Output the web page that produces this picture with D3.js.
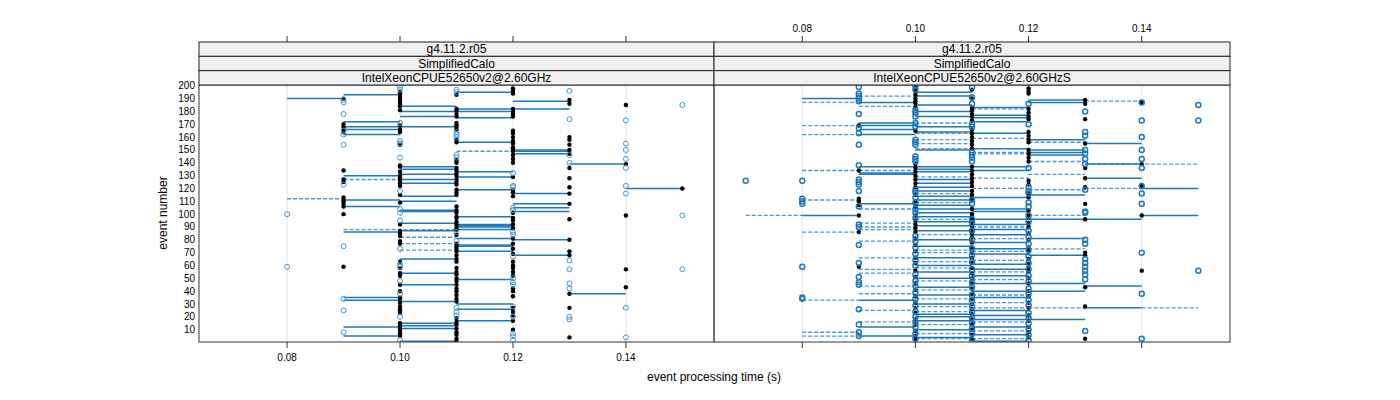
<!DOCTYPE html>
<html><head><meta charset="utf-8">
<script src="https://cdn.jsdelivr.net/npm/d3@7"></script>
<style>body{margin:0;background:#fff}svg{display:block}text{font-family:"Liberation Sans",Arial,sans-serif}</style>
</head><body><svg id="c" width="1400" height="400"></svg>
<script>
// ---------- data ----------
const stripVersion = ["g4.11.2.r05", "g4.11.2.r05"];
const stripTest = ["SimplifiedCalo", "SimplifiedCalo"];
const stripCpu = ["IntelXeonCPUE52650v2@2.60GHz", "IntelXeonCPUE52650v2@2.60GHzS"];
const xTicks = [0.08, 0.10, 0.12, 0.14];
const yTicks = [10,20,30,40,50,60,70,80,90,100,110,120,130,140,150,160,170,180,190,200];
const xLabel = "event processing time (s)";
const yLabel = "event number";

// [time, [event numbers]]
const leftBlack = [
  [0.09, [190,170,168,166,164,134,127,125,113,111,110,108,106,100,59]],
  [0.10, [195,193,191,189,187,185,184,181,169,166,164,154,138,137,133,130,128,126,124,122,115,109,92,87,85,83,79,77,63,58,54,52,45,40,35,34,31,28,26,25,23,15,13,11,9,7,5]],
  [0.11, [193,182,181,178,176,171,169,168,166,158,156,142,140,136,134,132,130,127,125,123,119,117,115,106,103,101,98,97,94,92,90,88,84,77,75,73,71,68,65,63,58,55,53,50,48,45,42,40,37,34,32,19,16,14,11,8,6,3,1]],
  [0.12, [198,196,194,182,180,178,176,165,163,160,157,155,152,151,149,146,143,140,129,119,117,114,101,97,95,92,89,81,77,73,69,63,60,58,55,52,42,40,36,27,24,21,17,10]],
  [0.13, [189,186,160,158,154,150,147,136,128,121,116,108,96,80,71,68,38,27,4]],
  [0.14, [185,139,99,57,43]],
  [0.15, [120]]
];
const leftBlue = [
  [0.08, [100,59]],
  [0.09, [189,187,178,165,162,154,123,75,34,25,8]],
  [0.10, [199,197,171,157,155,144,118,104,101,95,73,61,59,48,38,20,2]],
  [0.11, [197,195,164,162,160,146,144,86,79,27,24,21]],
  [0.12, [132,122,121,105,103,86,84,67,50,47,45,28,20,7,5,2]],
  [0.13, [196,174,146,140,64,57,46,42,20,18]],
  [0.14, [173,155,150,143,136,122,116,27,4]],
  [0.15, [185,99,57]]
];
// [event, from, to]
const leftSolid = [
  [190,0.08,0.09],[193,0.09,0.10],[184,0.10,0.11],[172,0.09,0.10],[168,0.09,0.11],[166,0.09,0.10],[162,0.09,0.10],
  [137,0.10,0.11],[135,0.10,0.11],[131,0.10,0.11],[130,0.09,0.10],[127,0.10,0.11],[124,0.10,0.11],[114,0.10,0.11],
  [111,0.09,0.10],[106,0.09,0.10],[110,0.10,0.11],[103,0.10,0.11],
  [195,0.11,0.12],[188,0.12,0.13],[182,0.11,0.13],[180,0.10,0.11],[180,0.11,0.12],[176,0.10,0.11],[175,0.11,0.12],
  [156,0.11,0.12],[150,0.12,0.13],[149,0.12,0.13],[147,0.12,0.13],[139,0.13,0.14],[133,0.11,0.12],[129,0.11,0.12],
  [120,0.14,0.15],[119,0.11,0.12],[116,0.12,0.13],[108,0.12,0.13],[105,0.12,0.13],[98,0.11,0.12],
  [102,0.12,0.13],[102,0.10,0.11],[93,0.10,0.11],[92,0.11,0.12],[91,0.11,0.12],[90,0.11,0.12],[87,0.10,0.11],
  [88,0.11,0.12],[86,0.09,0.10],[81,0.11,0.12],[80,0.12,0.13],[76,0.11,0.12],[75,0.11,0.12],[71,0.11,0.12],
  [68,0.12,0.13],[65,0.10,0.11],[54,0.10,0.11],[49,0.11,0.12],[45,0.10,0.11],[38,0.13,0.14],[35,0.09,0.10],
  [33,0.09,0.10],[32,0.10,0.11],[30,0.11,0.12],[26,0.11,0.12],[17,0.11,0.12],[15,0.10,0.11],[13,0.10,0.11],
  [12,0.09,0.10],[11,0.10,0.11],[5,0.09,0.10],[1,0.10,0.11]
];
const leftDashed = [
  [112,0.08,0.09],[127,0.09,0.10],[88,0.09,0.11],[82,0.10,0.11],[77,0.10,0.11],[72,0.10,0.11],[149,0.11,0.12]
];

const rightBlack = [
  [0.09, [169,134,112,110,107,99,86,59]],
  [0.10, [199,196,193,190,188,186,183,165,139,136,133,130,127,124,121,115,110,106,99,95,92,89,86,81,76,71,66,62,56,51,46,41,36,31,27,23,18,14,9,5,2]],
  [0.11, [197,190,183,181,178,176,173,166,163,160,157,154,151,137,134,131,128,125,122,118,115,112,104,100,97,94,91,88,85,82,78,74,70,66,62,58,54,50,46,42,38,34,30,26,22,18,14,10,6,3]],
  [0.12, [198,196,194,182,179,176,174,164,161,158,156,150,147,144,141,126,123,116,113,103,100,97,93,90,85,80,74,71,65,61,58,55,50,46,40,36,31,27,21,17,12,8,4]],
  [0.13, [189,186,174,155,136,128,121,108,96,70,68,43,28,3]],
  [0.14, [187,139,122,99,56]]
];
const rightBlue = [
  [0.07, [126]],
  [0.08, [126,112,110,108,59,35,34]],
  [0.09, [199,194,192,190,188,178,167,163,154,138,127,125,123,118,106,92,90,76,62,51,47,45,26,14,8,5]],
  [0.10, [200,197,181,179,176,171,168,158,156,154,145,143,141,119,117,113,109,104,101,97,83,79,74,69,64,60,53,48,44,39,34,29,24,20,16,12,7,3]],
  [0.11, [199,191,186,170,168,148,146,144,141,111,108,96,93,87,80,73,68,63,57,52,47,43,37,33,28,24,19,15,11,7,2]],
  [0.12, [186,170,136,121,118,116,109,106,99,94,87,82,77,72,67,62,57,52,48,42,38,33,29,23,19,15,10,6,2]],
  [0.13, [180,164,161,150,147,143,139,119,102,101,80,77,65,62,59,56,53,49,9]],
  [0.14, [187,173,160,150,143,136,122,116,108,70,38,3]],
  [0.15, [185,173,56]]
];
const rightSolid = [
  [190,0.08,0.09],[187,0.09,0.10],[195,0.10,0.11],[192,0.10,0.11],[171,0.09,0.10],[169,0.09,0.10],[166,0.09,0.10],
  [162,0.09,0.10],[168,0.10,0.11],[137,0.09,0.10],[132,0.09,0.10],[131,0.09,0.10],[108,0.09,0.10],[99,0.08,0.09],
  [33,0.09,0.10],[12,0.09,0.10],[5,0.09,0.10],
  [185,0.10,0.11],[180,0.10,0.11],[176,0.10,0.11],[164,0.10,0.11],[150,0.10,0.11],[137,0.10,0.11],[135,0.10,0.11],
  [133,0.10,0.11],[127,0.10,0.11],[124,0.10,0.11],[121,0.10,0.11],[118,0.10,0.11],[114,0.10,0.11],[111,0.10,0.11],
  [107,0.10,0.11],[104,0.10,0.11],[101,0.10,0.11],[98,0.10,0.11],[94,0.10,0.11],[91,0.10,0.11],[87,0.10,0.11],
  [80,0.10,0.11],[75,0.10,0.11],[66,0.10,0.11],[60,0.10,0.11],[55,0.10,0.11],[50,0.10,0.11],[43,0.10,0.11],
  [37,0.10,0.11],[30,0.10,0.11],[22,0.10,0.11],[20,0.10,0.11],[17,0.10,0.11],[10,0.10,0.11],[4,0.10,0.11],
  [183,0.11,0.12],[177,0.11,0.12],[175,0.11,0.12],[172,0.11,0.12],[163,0.11,0.12],[151,0.11,0.12],[137,0.11,0.12],
  [134,0.11,0.12],[113,0.11,0.12],[104,0.11,0.12],[102,0.11,0.12],[96,0.11,0.12],[92,0.11,0.12],[88,0.11,0.12],
  [84,0.11,0.12],[78,0.11,0.12],[73,0.11,0.12],[69,0.11,0.12],[61,0.11,0.12],[57,0.11,0.12],[52,0.11,0.12],
  [46,0.11,0.12],[40,0.11,0.12],[35,0.11,0.12],[25,0.11,0.12],[21,0.11,0.12],[18,0.11,0.12],[12,0.11,0.12],
  [6,0.11,0.12],[1,0.11,0.12],
  [189,0.12,0.13],[187,0.12,0.13],[158,0.12,0.13],[150,0.12,0.13],[148,0.12,0.13],[146,0.12,0.13],[115,0.12,0.13],
  [96,0.12,0.14],[81,0.12,0.13],[68,0.12,0.13],[46,0.12,0.13],[40,0.12,0.13],[18,0.12,0.13],
  [155,0.13,0.14],[139,0.13,0.14],[128,0.13,0.14],[44,0.13,0.14],[27,0.13,0.14],
  [120,0.14,0.15],[99,0.14,0.15]
];
const rightDashed = [
  [187,0.08,0.09],[169,0.08,0.09],[162,0.08,0.09],[134,0.08,0.09],[111,0.08,0.09],[99,0.07,0.08],[86,0.08,0.09],
  [33,0.08,0.09],[8,0.08,0.09],[5,0.08,0.09],
  [192,0.09,0.10],[184,0.09,0.10],[134,0.09,0.10],[104,0.09,0.10],[93,0.09,0.10],[90,0.09,0.10],[88,0.09,0.10],
  [79,0.09,0.10],[66,0.09,0.10],[57,0.09,0.10],[54,0.09,0.10],[44,0.09,0.10],[38,0.09,0.10],[25,0.09,0.10],[16,0.09,0.10],
  [171,0.10,0.11],[163,0.10,0.11],[158,0.10,0.11],[155,0.10,0.11],[151,0.10,0.11],[129,0.10,0.11],[116,0.10,0.11],
  [109,0.10,0.11],[96,0.10,0.11],[84,0.10,0.11],[72,0.10,0.11],[70,0.10,0.11],[63,0.10,0.11],[58,0.10,0.11],
  [48,0.10,0.11],[41,0.10,0.11],[34,0.10,0.11],[28,0.10,0.11],[24,0.10,0.11],[14,0.10,0.11],[7,0.10,0.11],[3,0.10,0.11],
  [182,0.11,0.12],[159,0.11,0.12],[148,0.11,0.12],[147,0.11,0.12],[128,0.11,0.12],[120,0.11,0.12],[90,0.11,0.12],
  [81,0.11,0.12],[71,0.11,0.12],[64,0.11,0.12],[55,0.11,0.12],[49,0.11,0.12],[37,0.11,0.12],[31,0.11,0.12],
  [27,0.11,0.12],[16,0.11,0.12],[9,0.11,0.12],[3,0.11,0.12],
  [156,0.12,0.13],[141,0.12,0.13],[131,0.12,0.13],[119,0.12,0.13],[99,0.12,0.13],[73,0.12,0.13],[27,0.12,0.13],
  [188,0.13,0.14],[139,0.13,0.15],[120,0.13,0.14],
  [27,0.14,0.15]
];

// ---------- drawing ----------
const svg = d3.select("#c");
const plotTop = 85, plotBottom = 342, stripTop = 42, stripH = (plotTop - stripTop) / 3;
const panels = [
  {x0: 199, x1: 714, black: leftBlack, blue: leftBlue, solid: leftSolid, dashed: leftDashed, topLabels: false, bottomLabels: true, heavy: false},
  {x0: 714, x1: 1230, black: rightBlack, blue: rightBlue, solid: rightSolid, dashed: rightDashed, topLabels: true, bottomLabels: false, heavy: true}
];
const yScale = d3.scaleLinear().domain([0.4, 200.6]).range([plotBottom, plotTop]);
const flat = arr => arr.flatMap(([t, evs]) => evs.map(e => ({t, e})));

panels.forEach((p, i) => {
  const x = d3.scaleLinear().domain([0.0644, 0.1556]).range([p.x0, p.x1]);
  const g = svg.append("g");
  const clipId = "clip" + i;
  svg.append("clipPath").attr("id", clipId).append("rect")
    .attr("x", p.x0).attr("y", plotTop).attr("width", p.x1 - p.x0).attr("height", plotBottom - plotTop);
  g.selectAll(".grid").data(xTicks).join("line")
    .attr("x1", d => x(d)).attr("x2", d => x(d)).attr("y1", plotTop).attr("y2", plotBottom)
    .attr("stroke", "#e6e6e6").attr("stroke-width", 1);
  const body = g.append("g").attr("clip-path", `url(#${clipId})`);
  body.selectAll(".ds").data(p.dashed).join("line")
    .attr("x1", d => x(d[1])).attr("x2", d => x(d[2])).attr("y1", d => yScale(d[0])).attr("y2", d => yScale(d[0]))
    .attr("stroke", "#4a97d3").attr("stroke-width", 1.3).attr("stroke-dasharray", "4,2");
  body.selectAll(".sl").data(p.solid).join("line")
    .attr("x1", d => x(d[1])).attr("x2", d => x(d[2])).attr("y1", d => yScale(d[0])).attr("y2", d => yScale(d[0]))
    .attr("stroke", "#1f78b7").attr("stroke-width", 1.5);
  body.selectAll(".bk").data(flat(p.black)).join("circle")
    .attr("cx", d => x(d.t)).attr("cy", d => yScale(d.e)).attr("r", 2.2).attr("fill", "#000");
  body.selectAll(".bl").data(flat(p.blue)).join("circle")
    .attr("cx", d => x(d.t)).attr("cy", d => yScale(d.e)).attr("r", 2.5).attr("fill", "none")
    .attr("stroke", p.heavy ? "#1f79bd" : "#4596d2").attr("stroke-width", p.heavy ? 1.5 : 1);
  g.append("rect").attr("x", p.x0).attr("y", plotTop).attr("width", p.x1 - p.x0).attr("height", plotBottom - plotTop)
    .attr("fill", "none").attr("stroke", "#555").attr("stroke-width", 1.2);
  [stripVersion[i], stripTest[i], stripCpu[i]].forEach((txt, k) => {
    const sy = stripTop + k * stripH;
    g.append("rect").attr("x", p.x0).attr("y", sy).attr("width", p.x1 - p.x0).attr("height", stripH)
      .attr("fill", "#f0f0f0").attr("stroke", "#222").attr("stroke-width", 1);
    g.append("text").attr("x", (p.x0 + p.x1) / 2).attr("y", sy + stripH / 2 + 4.3)
      .attr("text-anchor", "middle").attr("font-size", 12).attr("fill", "#000").text(txt);
  });
  g.selectAll(".tt").data(xTicks).join("line")
    .attr("x1", d => x(d)).attr("x2", d => x(d)).attr("y1", stripTop - 6).attr("y2", stripTop)
    .attr("stroke", "#333").attr("stroke-width", 1);
  if (p.topLabels) {
    g.selectAll(".tl").data(xTicks).join("text")
      .attr("x", d => x(d)).attr("y", 31.5).attr("text-anchor", "middle").attr("font-size", 10)
      .text(d => d3.format(".2f")(d));
  }
  g.selectAll(".bt").data(xTicks).join("line")
    .attr("x1", d => x(d)).attr("x2", d => x(d)).attr("y1", plotBottom).attr("y2", plotBottom + 6)
    .attr("stroke", "#333").attr("stroke-width", 1);
  if (p.bottomLabels) {
    g.selectAll(".bl2").data(xTicks).join("text")
      .attr("x", d => x(d)).attr("y", 360.5).attr("text-anchor", "middle").attr("font-size", 10)
      .text(d => d3.format(".2f")(d));
  }
});

svg.selectAll(".yl").data(yTicks).join("text")
  .attr("x", 195).attr("y", d => yScale(d) + 3.5).attr("text-anchor", "end").attr("font-size", 10).text(d => d);

svg.append("text").attr("x", 714).attr("y", 381).attr("text-anchor", "middle").attr("font-size", 12).text(xLabel);
svg.append("text").attr("transform", "translate(167,213) rotate(-90)").attr("text-anchor", "middle")
  .attr("font-size", 12).text(yLabel);
</script></body></html>
